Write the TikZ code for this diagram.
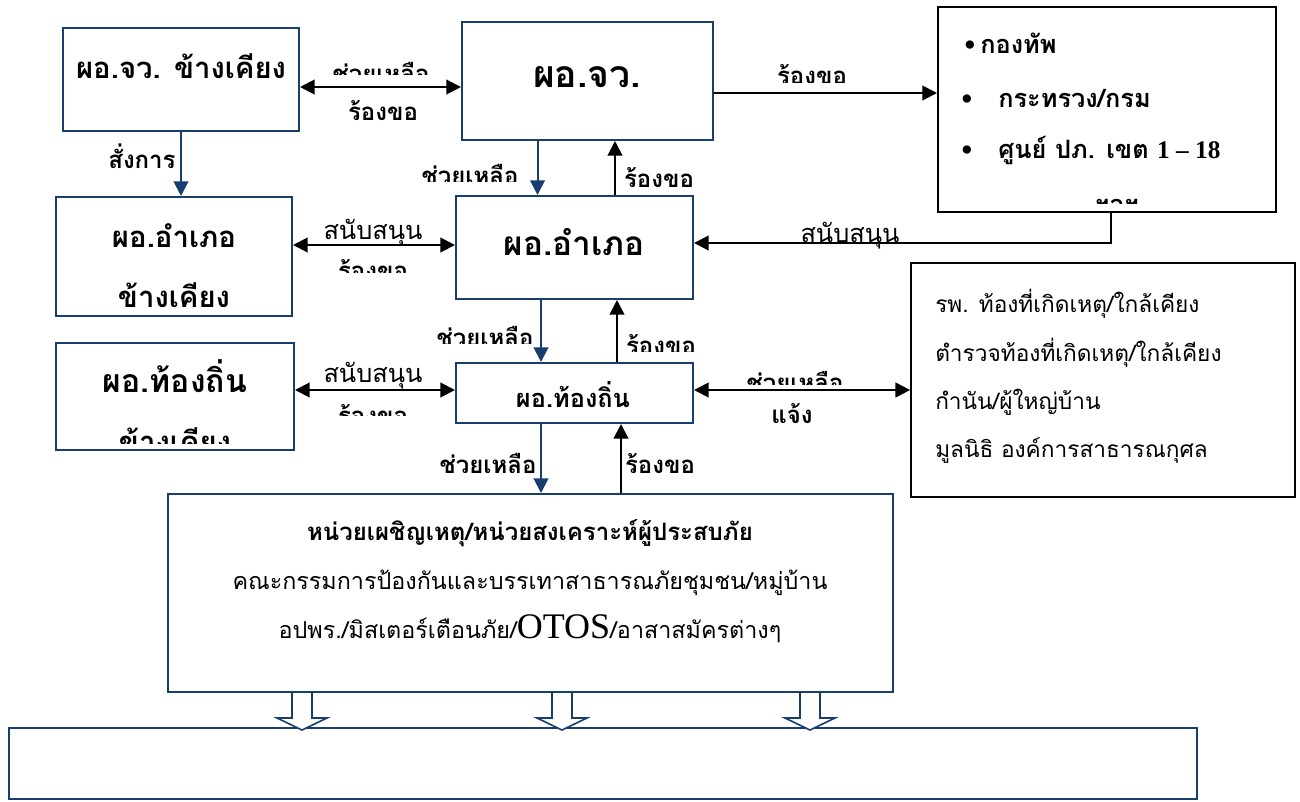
\documentclass[tikz,border=0pt]{standalone}
\usepackage{fontspec}
\setmainfont{Loma}[Script=Thai]
\newfontfamily\latinfont{Liberation Serif}
\usetikzlibrary{arrows.meta,calc,fit}
\definecolor{boxblue}{RGB}{24,62,112}

\begin{document}
\begin{tikzpicture}[x=0.75pt, y=-0.75pt,
    blbox/.style={draw=boxblue, line width=1.5pt, inner sep=0pt},
    bkbox/.style={draw=black, line width=1.5pt, inner sep=0pt},
    bkarr/.style={draw=black, line width=1.5pt, -{Triangle[length=11pt,width=11pt]}},
    bkdbl/.style={draw=black, line width=1.5pt, {Triangle[length=11pt,width=11pt]}-{Triangle[length=11pt,width=11pt]}},
    blarr/.style={draw=boxblue, line width=1.5pt, -{Triangle[length=11pt,width=11pt]}},
    hollow/.style={draw=boxblue, line width=1.2pt, fill=white, line join=miter},
    txt/.style={anchor=base, inner sep=0pt},
    ttl/.style={txt, font=\bfseries\fontsize{22}{25}\selectfont},
    lbl/.style={txt, font=\bfseries\fontsize{18}{20}\selectfont},
    sup/.style={txt, font=\fontsize{19}{22}\selectfont},
    dot/.style={txt, font=\latinfont\fontsize{26}{28}\selectfont},
    lst/.style={txt, anchor=base west, font=\fontsize{17}{19}\selectfont},
    hln/.style={txt, font=\fontsize{17.5}{20}\selectfont}]
    \useasboundingbox (0,0) rectangle (1300,801);

    % boxes
    \node[blbox, fit={(63,28) (299,131)}] (a) {};
    \node[blbox, fit={(462,22) (713,140)}] (b) {};
    \node[bkbox, fit={(938,7) (1276,212)}] (c) {};
    \node[blbox, fit={(456,196) (693,299)}] (d) {};
    \node[blbox, fit={(456,363) (693,423)}] (e) {};
    \node[blbox, fit={(56,197) (292,316)}] (f) {};
    \node[blbox, fit={(56,343) (294,450)}] (g) {};
    \node[blbox, fit={(168,494) (893,692)}] (h) {};
    \node[blbox, line width=2.2pt, fit={(9,728) (1197,799)}] (i) {};
    \node[bkbox, line width=1.3pt, fit={(911,263) (1295,497)}] (j) {};

    % box texts
    \node[ttl] (ta) at (181,78) {ผอ.จว. ข้างเคียง};
    \node[ttl, font=\bfseries\fontsize{28}{30}\selectfont] (tb) at (587,87) {ผอ.จว.};
    \node[ttl, font=\bfseries\fontsize{25}{28}\selectfont] (td) at (574,255) {ผอ.อำเภอ};
    \node[ttl, font=\bfseries\fontsize{19}{21}\selectfont] (te) at (573,407) {ผอ.ท้องถิ่น};
    \node[ttl] (tf1) at (174,247) {ผอ.อำเภอ};
    \node[ttl] (tf2) at (174,307) {ข้างเคียง};
    \node[ttl, font=\bfseries\fontsize{24}{26}\selectfont] (tg1) at (175,392) {ผอ.ท้องถิ่น};
    \begin{scope}
        \clip (60,400) rectangle (290,443);
        \node[ttl] (tg2) at (175,452) {ข้างเคียง};
    \end{scope}

    \node[dot] (c1) at (970,56) {•};
    \node[dot] (c2) at (967,110) {•};
    \node[dot] (c3) at (967,161) {•};
    \node[lst, font=\bfseries\fontsize{19}{21}\selectfont] (tc1) at (980,53) {กองทัพ};
    \node[lst, font=\bfseries\fontsize{19}{21}\selectfont] (tc2) at (998,107) {กระทรวง/กรม};
    \node[lst, font=\bfseries\fontsize{19}{21}\selectfont] (tc3) at (998,158) {ศูนย์ ปภ. เขต {\latinfont 1 – 18}};
    \begin{scope}
        \clip (1050,180) rectangle (1200,203);
        \node[txt, font=\bfseries\fontsize{19}{21}\selectfont] (tc4) at (1117,213) {ฯลฯ};
    \end{scope}

    \node[lst] (tj1) at (935,312) {รพ. ท้องที่เกิดเหตุ/ใกล้เคียง};
    \node[lst] (tj2) at (935,361) {ตำรวจท้องที่เกิดเหตุ/ใกล้เคียง};
    \node[lst] (tj3) at (935,409) {กำนัน/ผู้ใหญ่บ้าน};
    \node[lst] (tj4) at (935,457) {มูลนิธิ องค์การสาธารณกุศล};

    \node[hln, font=\bfseries\fontsize{18}{20}\selectfont] (th1) at (530,540) {หน่วยเผชิญเหตุ/หน่วยสงเคราะห์ผู้ประสบภัย};
    \node[hln] (th2) at (530,589) {คณะกรรมการป้องกันและบรรเทาสาธารณภัยชุมชน/หมู่บ้าน};
    \node[hln] (th3) at (530,638) {อปพร./มิสเตอร์เตือนภัย/{\latinfont\fontsize{27}{29}\selectfont OTOS}/อาสาสมัครต่างๆ};

    % connectors
    \draw[bkdbl] ($(a.east)+(0,7.5)$) coordinate (p1) -- (p1 -| b.west);
    \draw[blarr] (a.south) -- (a.south |- f.north);
    \draw[blarr] ($(b.south)+(-50,0)$) coordinate (p2) -- (p2 |- d.north);
    \draw[bkarr] ($(d.north)+(40.5,0)$) coordinate (p3) -- (p3 |- b.south);
    \draw[bkarr] ($(b.east)+(0,12)$) coordinate (p4) -- (p4 -| c.west);
    \draw[bkarr] ($(c.south)+(4,0)$) |- ($(d.east)+(0,-4.5)$);
    \draw[bkdbl] ($(f.east)+(0,-11.5)$) coordinate (p5) -- (p5 -| d.west);
    \draw[blarr] ($(d.south)+(-33.5,0)$) coordinate (p6) -- (p6 |- e.north);
    \draw[bkarr] ($(e.north)+(42.5,0)$) coordinate (p7) -- (p7 |- d.south);
    \draw[bkdbl] ($(g.east)+(0,-6.5)$) coordinate (p8) -- (p8 -| e.west);
    \draw[bkdbl] ($(e.east)+(0,-3)$) coordinate (p9) -- (p9 -| j.west);
    \draw[blarr] ($(e.south)+(-33.5,0)$) coordinate (p10) -- (p10 |- h.north);
    \draw[bkarr] ($(h.north)+(90.5,0)$) coordinate (p11) -- (p11 |- e.south);
    \foreach \dx in {-228.5,31.5,279.5}
        \draw[hollow] ($(h.south)+({\dx-10},0)$) -- ++(0,25) -- ++(-15,0) -- ++(25,12) -- ++(25,-12) -- ++(-15,0) -- ++(0,-25);

    % connector labels
    \begin{scope}
        \clip (310,40) rectangle (455,74);
        \node[lbl] (l1) at (381,82) {ช่วยเหลือ};
    \end{scope}
    \node[lbl] (l2) at (383,120) {ร้องขอ};
    \node[lbl] (l3) at (142,168) {สั่งการ};
    \begin{scope}
        \clip (400,150) rectangle (535,181);
        \node[lbl] (l4) at (470,184) {ช่วยเหลือ};
    \end{scope}
    \node[lbl] (l5) at (659,187) {ร้องขอ};
    \begin{scope}
        \clip (740,50) rectangle (890,82);
        \node[lbl] (l6) at (812,84) {ร้องขอ};
    \end{scope}
    \node[sup] (l7) at (850,242) {สนับสนุน};
    \node[sup] (l8) at (373,239) {สนับสนุน};
    \begin{scope}
        \clip (300,250) rectangle (450,272);
        \node[lbl] (l9) at (373,279) {ร้องขอ};
    \end{scope}
    \begin{scope}
        \clip (420,310) rectangle (538,343);
        \node[lbl] (l10) at (485,346) {ช่วยเหลือ};
    \end{scope}
    \begin{scope}
        \clip (620,310) rectangle (720,351);
        \node[lbl] (l11) at (661,354) {ร้องขอ};
    \end{scope}
    \node[sup] (l12) at (373,382) {สนับสนุน};
    \begin{scope}
        \clip (300,395) rectangle (450,415);
        \node[lbl] (l13) at (373,424) {ร้องขอ};
    \end{scope}
    \begin{scope}
        \clip (720,360) rectangle (880,384);
        \node[lbl] (l14) at (795,391) {ช่วยเหลือ};
    \end{scope}
    \node[lbl] (l15) at (792,423) {แจ้ง};
    \node[lbl] (l16) at (488,473) {ช่วยเหลือ};
    \node[lbl] (l17) at (660,473) {ร้องขอ};
\end{tikzpicture}
\end{document}
